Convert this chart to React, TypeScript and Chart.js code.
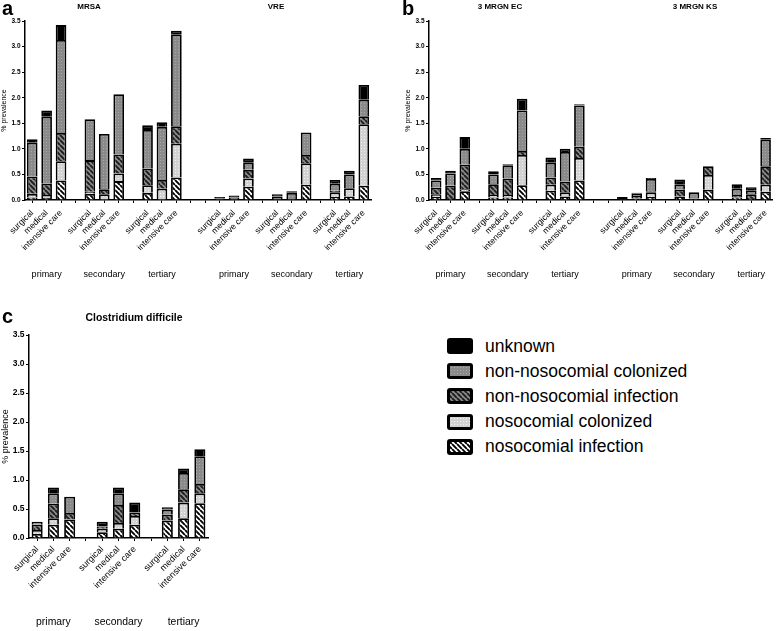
import React, { useEffect, useRef } from 'react';
import { Chart, registerables } from 'chart.js';

Chart.register(...registerables);

const FONT = "'Liberation Sans', Arial, Helvetica, sans-serif";

// categories
const wards = ['surgical', 'medical', 'intensive care'];
const levels = ['primary', 'secondary', 'tertiary'];
const seriesNames = [
  'nosocomial infection',
  'nosocomial colonized',
  'non-nosocomial infection',
  'non-nosocomial colonized',
  'unknown',
];
const legendOrder = [4, 3, 2, 1, 0];
const yTicks = [0, 0.5, 1, 1.5, 2, 2.5, 3, 3.5];

// segment values (% prevalence); order per array:
// primary (surgical, medical, intensive care), secondary (...), tertiary (...)
const mrsaNosInf = [0.05, 0.04, 0.38, 0.12, 0, 0.37, 0.14, 0, 0.44];
const mrsaNosCol = [0.07, 0.06, 0.38, 0.04, 0.11, 0.15, 0.15, 0.22, 0.66];
const mrsaNonInf = [0.34, 0.22, 0.55, 0.62, 0.1, 0.37, 0.32, 0.17, 0.34];
const mrsaNonCol = [0.66, 1.31, 1.82, 0.8, 1.08, 1.18, 0.76, 1.04, 1.8];
const mrsaUnknown = [0.07, 0.12, 0.29, 0, 0, 0, 0.09, 0.09, 0.07];

const vreNosInf = [0, 0, 0.26, 0, 0, 0.3, 0.06, 0.07, 0.28];
const vreNosCol = [0, 0, 0.16, 0, 0, 0.42, 0.09, 0.16, 1.2];
const vreNonInf = [0, 0, 0.17, 0, 0, 0.16, 0.03, 0, 0.16];
const vreNonCol = [0.03, 0.05, 0.15, 0.07, 0.14, 0.44, 0.14, 0.27, 0.32];
const vreUnknown = [0.03, 0.04, 0.07, 0.04, 0.03, 0, 0.07, 0.07, 0.29];

const ecNosInf = [0.06, 0.04, 0.17, 0.05, 0.05, 0.29, 0.18, 0.07, 0.38];
const ecNosCol = [0.05, 0, 0.04, 0.05, 0.05, 0.59, 0.12, 0.08, 0.44];
const ecNonInf = [0.13, 0.24, 0.48, 0.21, 0.32, 0.08, 0.14, 0.21, 0.22];
const ecNonCol = [0.14, 0.24, 0.31, 0.19, 0.26, 0.79, 0.29, 0.58, 0.81];
const ecUnknown = [0.05, 0.05, 0.23, 0.06, 0.02, 0.23, 0.1, 0.06, 0.02];

const ksNosInf = [0, 0.03, 0.06, 0.07, 0, 0.2, 0.05, 0.04, 0.16];
const ksNosCol = [0, 0, 0.09, 0, 0, 0.29, 0, 0, 0.14];
const ksNonInf = [0, 0.05, 0.02, 0.13, 0.03, 0.17, 0.05, 0.07, 0.36];
const ksNonCol = [0.02, 0.04, 0.24, 0.11, 0.12, 0, 0.12, 0.08, 0.52];
const ksUnknown = [0.04, 0.02, 0.02, 0.09, 0, 0, 0.09, 0.06, 0.03];

const cdNosInf = [0.07, 0.23, 0.32, 0.1, 0.16, 0.23, 0.3, 0.34, 0.6];
const cdNosCol = [0.07, 0.11, 0, 0.06, 0.1, 0.15, 0, 0.27, 0.17];
const cdNonInf = [0.09, 0.25, 0.11, 0.04, 0.31, 0.06, 0.1, 0.23, 0.16];
const cdNonCol = [0.05, 0.18, 0.28, 0, 0.2, 0, 0.09, 0.28, 0.48];
const cdUnknown = [0, 0.1, 0, 0.08, 0.1, 0.17, 0.04, 0.08, 0.12];

const mrsa = [mrsaNosInf, mrsaNosCol, mrsaNonInf, mrsaNonCol, mrsaUnknown];
const vre = [vreNosInf, vreNosCol, vreNonInf, vreNonCol, vreUnknown];
const ec = [ecNosInf, ecNosCol, ecNonInf, ecNonCol, ecUnknown];
const ks = [ksNosInf, ksNosCol, ksNonInf, ksNonCol, ksUnknown];
const cd = [cdNosInf, cdNosCol, cdNonInf, cdNonCol, cdUnknown];

function makeFill(ctx: CanvasRenderingContext2D, kind: number): string | CanvasPattern {
  if (kind === 4) return '#000000';
  const striped = kind === 0 || kind === 2;
  const s = striped ? 5 : 3;
  const t = document.createElement('canvas');
  t.width = s;
  t.height = s;
  const c = t.getContext('2d')!;
  if (striped) {
    c.fillStyle = kind === 0 ? '#ffffff' : '#8a8a8a';
    c.fillRect(0, 0, s, s);
    c.strokeStyle = kind === 0 ? '#000000' : '#1c1c1c';
    c.lineWidth = 1.9;
    c.beginPath();
    for (const o of [-s, 0, s]) {
      c.moveTo(o, 0);
      c.lineTo(o + s, s);
    }
    c.stroke();
  } else {
    c.fillStyle = kind === 1 ? '#d2d2d2' : '#8a8a8a';
    c.fillRect(0, 0, s, s);
    c.fillStyle = kind === 1 ? '#f2f2f2' : '#a8a8a8';
    c.fillRect(1, 1, 1, 1);
  }
  return ctx.createPattern(t, 'repeat') as CanvasPattern;
}

function buildPanel(paths: number[][][]) {
  const labels: string[] = [];
  const data: (number | null)[][] = seriesNames.map(() => []);
  const groups: { label: string; index: number }[] = [];
  const gap = () => {
    labels.push('');
    data.forEach((d) => d.push(null));
  };
  paths.forEach((series, p) => {
    if (p > 0) {
      gap();
      gap();
    }
    levels.forEach((lvl, l) => {
      if (l > 0) gap();
      wards.forEach((w, wi) => {
        if (wi === 1) groups.push({ label: lvl, index: labels.length });
        labels.push(w);
        series.forEach((arr, s) => data[s].push(arr[l * 3 + wi] || null));
      });
    });
  });
  return { labels, data, groups };
}

type PanelProps = {
  paths: number[][][];
  left: number;
  top: number;
  width: number;
  height: number;
  padTop: number;
  padRight: number;
  yWidth: number;
  xHeight: number;
  tickSize: number;
  titleSize: number;
  catSize: number;
  catPad: number;
  groupSize: number;
  groupOffset: number;
  barPct: number;
};

function Panel(props: PanelProps) {
  const ref = useRef<HTMLCanvasElement>(null);
  useEffect(() => {
    const canvas = ref.current!;
    const ctx = canvas.getContext('2d')!;
    const { labels, data, groups } = buildPanel(props.paths);
    const groupPlugin = {
      id: 'groupLabels',
      afterDraw(chart: any) {
        const x = chart.scales.x;
        const c = chart.ctx;
        c.save();
        c.font = `${props.groupSize}px ${FONT}`;
        c.fillStyle = '#000';
        c.textAlign = 'center';
        c.textBaseline = 'middle';
        groups.forEach((g) => {
          c.fillText(g.label, x.getPixelForValue(g.index), chart.chartArea.bottom + props.groupOffset);
        });
        c.restore();
      },
    };
    const chart = new Chart(ctx, {
      type: 'bar',
      data: {
        labels,
        datasets: data.map((d, i) => ({
          label: seriesNames[i],
          data: d,
          backgroundColor: makeFill(ctx, i),
          borderColor: '#000000',
          borderWidth: 1.8,
          barPercentage: props.barPct,
          categoryPercentage: 1,
        })),
      },
      options: {
        animation: false,
        responsive: false,
        maintainAspectRatio: false,
        layout: { padding: { top: props.padTop, right: props.padRight, left: 0, bottom: 0 } },
        plugins: { legend: { display: false }, tooltip: { enabled: false } },
        scales: {
          x: {
            stacked: true,
            offset: true,
            grid: {
              offset: false,
              drawOnChartArea: false,
              drawTicks: true,
              tickLength: 3,
              color: '#000',
              lineWidth: 1,
            },
            border: { color: '#000', width: 1.5 },
            ticks: {
              autoSkip: false,
              minRotation: 45,
              maxRotation: 45,
              padding: props.catPad,
              color: '#000',
              font: { family: FONT, size: props.catSize },
            },
            afterFit: (s: any) => {
              s.height = props.xHeight;
            },
          },
          y: {
            stacked: true,
            min: yTicks[0],
            max: yTicks[yTicks.length - 1],
            afterBuildTicks: (s: any) => {
              s.ticks = yTicks.map((v) => ({ value: v }));
            },
            grid: {
              drawOnChartArea: false,
              drawTicks: true,
              tickLength: 3,
              color: '#000',
              lineWidth: 1,
            },
            border: { color: '#000', width: 1.5 },
            ticks: {
              padding: 1.5,
              color: '#000',
              font: { family: FONT, size: props.tickSize, weight: 'bold' },
              callback: (v: any) => Number(v).toFixed(1),
            },
            title: {
              display: true,
              text: '% prevalence',
              color: '#000',
              padding: 0,
              font: { family: FONT, size: props.titleSize },
            },
            afterFit: (s: any) => {
              s.width = props.yWidth;
            },
          },
        },
      },
      plugins: [groupPlugin],
    } as any);
    return () => chart.destroy();
  }, []);
  return (
    <canvas
      ref={ref}
      width={props.width}
      height={props.height}
      style={{ position: 'absolute', left: props.left, top: props.top, width: props.width, height: props.height }}
    />
  );
}

function TextAt(p: { x: number; baseline: number; size: number; bold?: boolean; center?: boolean; children: string }) {
  const top = p.baseline - 0.8465 * p.size;
  return (
    <div
      style={{
        position: 'absolute',
        left: p.center ? p.x - 150 : p.x,
        width: p.center ? 300 : undefined,
        top,
        fontSize: p.size,
        lineHeight: `${p.size}px`,
        fontWeight: p.bold ? 'bold' : 'normal',
        textAlign: p.center ? 'center' : 'left',
        whiteSpace: 'nowrap',
        color: '#000',
        fontFamily: FONT,
      }}
    >
      {p.children}
    </div>
  );
}

function Swatch({ kind }: { kind: number }) {
  const ref = useRef<HTMLCanvasElement>(null);
  useEffect(() => {
    const c = ref.current!;
    const ctx = c.getContext('2d')!;
    ctx.clearRect(0, 0, c.width, c.height);
    ctx.fillStyle = '#000';
    ctx.beginPath();
    (ctx as any).roundRect(0, 0, c.width, c.height, 3);
    ctx.fill();
    ctx.fillStyle = makeFill(ctx, kind);
    ctx.fillRect(3, 3, c.width - 6, c.height - 6);
  }, []);
  return <canvas ref={ref} width={26} height={16} style={{ display: 'block' }} />;
}

function Legend() {
  const y0 = 346;
  const dy = 25.2;
  return (
    <>
      {legendOrder.map((k, i) => (
        <React.Fragment key={k}>
          <div style={{ position: 'absolute', left: 447, top: y0 + i * dy - 8 }}>
            <Swatch kind={k} />
          </div>
          <TextAt x={485} baseline={y0 + i * dy + 6.5} size={17.5}>
            {seriesNames[k]}
          </TextAt>
        </React.Fragment>
      ))}
    </>
  );
}

export default function App() {
  const abCommon = {
    top: 0,
    height: 300,
    padTop: 21,
    yWidth: 25,
    xHeight: 100,
    tickSize: 6.5,
    titleSize: 7,
    catSize: 8.6,
    catPad: 5,
    groupSize: 9,
    groupOffset: 75,
    barPct: 0.74,
  };
  return (
    <div style={{ position: 'absolute', left: 0, top: 0, width: 778, height: 631, background: '#fff', overflow: 'hidden' }}>
      <Panel paths={[mrsa, vre]} left={0} width={380} padRight={9} {...abCommon} />
      <Panel paths={[ec, ks]} left={404} width={374} padRight={5} {...abCommon} />
      <Panel
        paths={[cd]}
        left={0}
        top={310}
        width={220}
        height={321}
        padTop={25}
        padRight={12}
        yWidth={29}
        xHeight={93}
        tickSize={8.5}
        titleSize={9}
        catSize={9}
        catPad={3}
        groupSize={10.4}
        groupOffset={84}
        barPct={0.68}
      />
      <TextAt x={2} baseline={15} size={20} bold>a</TextAt>
      <TextAt x={402} baseline={15} size={20} bold>b</TextAt>
      <TextAt x={2} baseline={323} size={20} bold>c</TextAt>
      <TextAt x={89} baseline={9.5} size={8} bold center>MRSA</TextAt>
      <TextAt x={276} baseline={9.5} size={8} bold center>VRE</TextAt>
      <TextAt x={500} baseline={9.5} size={8} bold center>3 MRGN EC</TextAt>
      <TextAt x={695} baseline={9.5} size={8} bold center>3 MRGN KS</TextAt>
      <TextAt x={134} baseline={322} size={10.4} bold center>Clostridium difficile</TextAt>
      <Legend />
    </div>
  );
}
